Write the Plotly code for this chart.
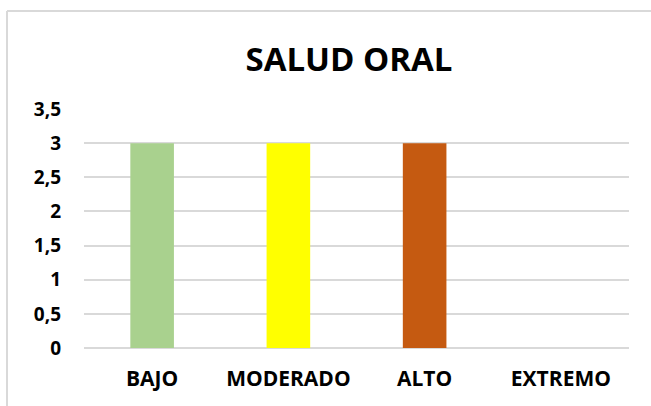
import plotly.graph_objects as go

categories = ["BAJO", "MODERADO", "ALTO", "EXTREMO"]
values = [3, 3, 3, 0]
bar_colors = ["#a9d18e", "#ffff00", "#c55a11", "#7f7f7f"]
y_ticks = [0, 0.5, 1, 1.5, 2, 2.5, 3, 3.5]

W, H = 651, 406
L, R, T, B = 84, 22, 109, 58
pw, ph = W - L - R, H - T - B


def px_x(x):
    return (x - L) / pw


def px_y(y):
    return (H - B - y) / ph


fig = go.Figure(
    go.Bar(
        x=categories,
        y=values,
        marker=dict(color=bar_colors, line=dict(width=0)),
        width=0.32,
    )
)

border = "#d9d9d9"
fig.add_shape(type="line", xref="paper", yref="paper",
              x0=px_x(7), x1=px_x(651), y0=px_y(11), y1=px_y(11),
              line=dict(color=border, width=2))
fig.add_shape(type="line", xref="paper", yref="paper",
              x0=px_x(7), x1=px_x(7), y0=px_y(11), y1=px_y(406),
              line=dict(color=border, width=2))

label_font = dict(size=21, family="Open Sans", color="#000000", weight="bold")

fig.update_layout(
    width=W,
    height=H,
    margin=dict(l=L, r=R, t=T, b=B),
    paper_bgcolor="white",
    plot_bgcolor="white",
    separators=",.",
    showlegend=False,
    font=dict(family="Open Sans", color="#000000"),
    title=dict(
        text="SALUD ORAL",
        x=349 / W,
        xanchor="center",
        y=1 - 59 / H,
        yanchor="middle",
        font=dict(size=33, family="Open Sans", color="#000000", weight="bold"),
    ),
    xaxis=dict(
        showgrid=False,
        showline=False,
        ticks="",
        tickfont=label_font,
        ticklabelstandoff=16,
    ),
    yaxis=dict(
        range=[0, 3.5],
        tickvals=y_ticks,
        showgrid=True,
        gridcolor=border,
        gridwidth=2,
        zeroline=True,
        zerolinecolor=border,
        zerolinewidth=2,
        showline=False,
        ticks="",
        tickfont=dict(label_font, size=19),
        ticklabelstandoff=22,
    ),
)

fig.write_html(
    "out.html",
    config={"displayModeBar": False},
    post_script="document.body.style.margin='0';",
)
